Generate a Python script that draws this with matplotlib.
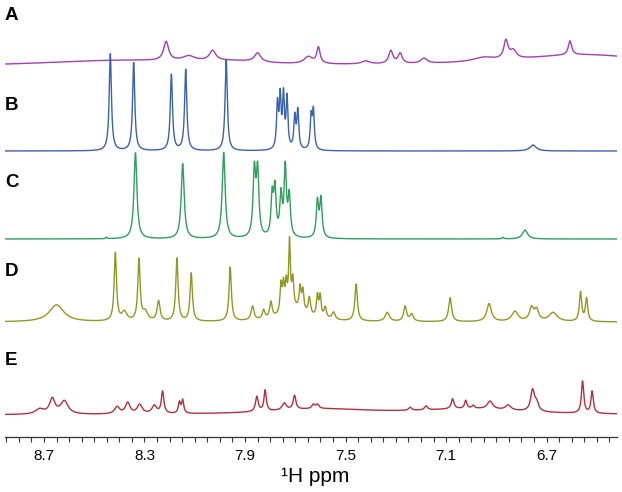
import numpy as np
import matplotlib.pyplot as plt
from matplotlib.ticker import MultipleLocator, FormatStrFormatter

plt.rcParams['font.family'] = ['Liberation Sans', 'DejaVu Sans']

# peaks: shift (ppm), height, half width (ppm)
a_shift = [8.40, 7.95, 6.55, 8.214, 8.124, 8.029, 7.850, 7.648, 7.608, 7.42,
           7.320, 7.283, 7.188, 6.95, 6.862, 6.833, 6.607]
a_height = [6, 3, 12, 19, 5, 10, 9, 7, 16, 3, 13, 10, 5, 4, 18, 8, 14]
a_width = [0.4, 0.15, 0.35, 0.012, 0.03, 0.015, 0.015, 0.02, 0.008, 0.02,
           0.01, 0.01, 0.015, 0.05, 0.01, 0.015, 0.008]

b_shift = [8.436, 8.343, 8.193, 8.136, 7.975, 7.771, 7.760, 7.747, 7.733,
           7.702, 7.690, 7.637, 7.628, 6.754]
b_height = [97, 88, 76, 81, 91, 44, 50, 52, 50, 32, 38, 32, 37.5, 6]
b_width = [0.0053, 0.0053, 0.0053, 0.0053, 0.0053, 0.0043, 0.0043, 0.0043,
           0.0043, 0.0045, 0.0045, 0.0045, 0.0045, 0.015]

c_shift = [8.452, 8.336, 8.148, 7.985, 7.863, 7.850, 7.792, 7.781, 7.757,
           7.740, 7.724, 7.612, 7.598, 6.874, 6.786]
c_height = [1.5, 86, 75, 86, 65, 65, 40, 46, 40, 68, 40, 36, 38.5, 1.5, 9]
c_width = [0.003, 0.007, 0.007, 0.007, 0.006, 0.006, 0.0055, 0.0055, 0.0055,
           0.0055, 0.0055, 0.0055, 0.0055, 0.004, 0.012]

d_shift = [8.650, 8.416, 8.380, 8.322, 8.297, 8.244, 8.171, 8.114, 7.959,
           7.870, 7.826, 7.797, 7.757, 7.747, 7.736, 7.723, 7.710, 7.700,
           7.681, 7.670, 7.644, 7.612, 7.601, 7.581, 7.548, 7.458, 7.334,
           7.263, 7.237, 7.084, 6.929, 6.826, 6.760, 6.740, 6.674, 6.565,
           6.541]
d_height = [17, 68, 9, 61, 9, 20, 63, 48, 54, 14, 9, 16, 28, 26, 26, 67, 28,
            12, 22, 20, 17, 21, 21, 11, 7.5, 37, 9, 15, 7, 24, 18, 10,
            13, 11, 9, 29, 23]
d_width = [0.035, 0.0055, 0.012, 0.0055, 0.012, 0.007, 0.0055, 0.0055, 0.0055,
           0.007, 0.006, 0.006, 0.0045, 0.0045, 0.0045, 0.004, 0.0045, 0.06,
           0.0045, 0.0045, 0.0055, 0.0045, 0.0045, 0.006, 0.008, 0.006, 0.01,
           0.007, 0.008, 0.007, 0.011, 0.015, 0.01, 0.01, 0.02, 0.0055,
           0.0055]

e_shift = [7.60, 7.00, 8.717, 8.667, 8.619, 8.409, 8.367, 8.319, 8.261, 8.228,
           8.161, 8.148, 7.853, 7.820, 7.744, 7.703, 7.628, 7.612, 7.243,
           7.180, 7.074, 7.022, 6.992, 6.925, 6.853, 6.756, 6.740, 6.557,
           6.519]
e_height = [5.5, 5.5, 5, 15, 13, 7, 11, 9, 8, 22, 11, 13, 15, 21, 7, 14, 4, 4,
            3, 4, 10, 8, 3, 8, 5, 21, 8, 32, 22]
e_width = [0.25, 0.25, 0.02, 0.013, 0.018, 0.012, 0.011, 0.012, 0.011, 0.006,
           0.005, 0.005, 0.0065, 0.0055, 0.01, 0.0065, 0.007, 0.007, 0.007,
           0.007, 0.0065, 0.0055, 0.006, 0.013, 0.013, 0.009, 0.009, 0.0055,
           0.0055]

labels = ['A', 'B', 'C', 'D', 'E']


def spectrum(ppm, shifts, heights, widths):
    y = np.zeros_like(ppm)
    for s, h, w in zip(shifts, heights, widths):
        y += h * w**2 / ((ppm - s)**2 + w**2)
    return y


ppm = np.linspace(8.855, 6.42, 5000)

traces = [(a_shift, a_height, a_width),
          (b_shift, b_height, b_width),
          (c_shift, c_height, c_width),
          (d_shift, d_height, d_width),
          (e_shift, e_height, e_width)]
offsets = [370, 286, 198, 115, 22]
colors = ['#a43fb5', '#3a62b2', '#2f9f5c', '#8e9b22', '#b3313b']
label_y = [20, 110, 187, 276.5, 365]

fig = plt.figure(figsize=(6.22, 4.92), dpi=100)
ax = fig.add_axes([5/622, 55/492, 612/622, 437/492])

for (s, h, w), off, col in zip(traces, offsets, colors):
    ax.plot(ppm, off + spectrum(ppm, s, h, w), color=col, lw=1.0)

ax.set_xlim(8.855, 6.42)
ax.set_ylim(0, 437)
for side in ['left', 'right', 'top']:
    ax.spines[side].set_visible(False)
ax.spines['bottom'].set_color('#333333')
ax.spines['bottom'].set_linewidth(0.9)
ax.set_yticks([])
ax.set_xticks([8.7, 8.3, 7.9, 7.5, 7.1, 6.7])
ax.xaxis.set_major_formatter(FormatStrFormatter('%.1f'))
ax.xaxis.set_minor_locator(MultipleLocator(0.05))
ax.tick_params(which='both', direction='out', length=3.5, width=0.8,
               color='#333333', labelsize=11, pad=5)

for lab, yy in zip(labels, label_y):
    fig.text(5/622, 1 - yy/492, lab, fontsize=13.5, fontweight='bold',
             va='baseline', ha='left')

fig.text(315/622, 1 - 481.7/492, '¹H ppm', fontsize=15, ha='center',
         va='baseline')

fig.savefig('out.png', dpi=100)
